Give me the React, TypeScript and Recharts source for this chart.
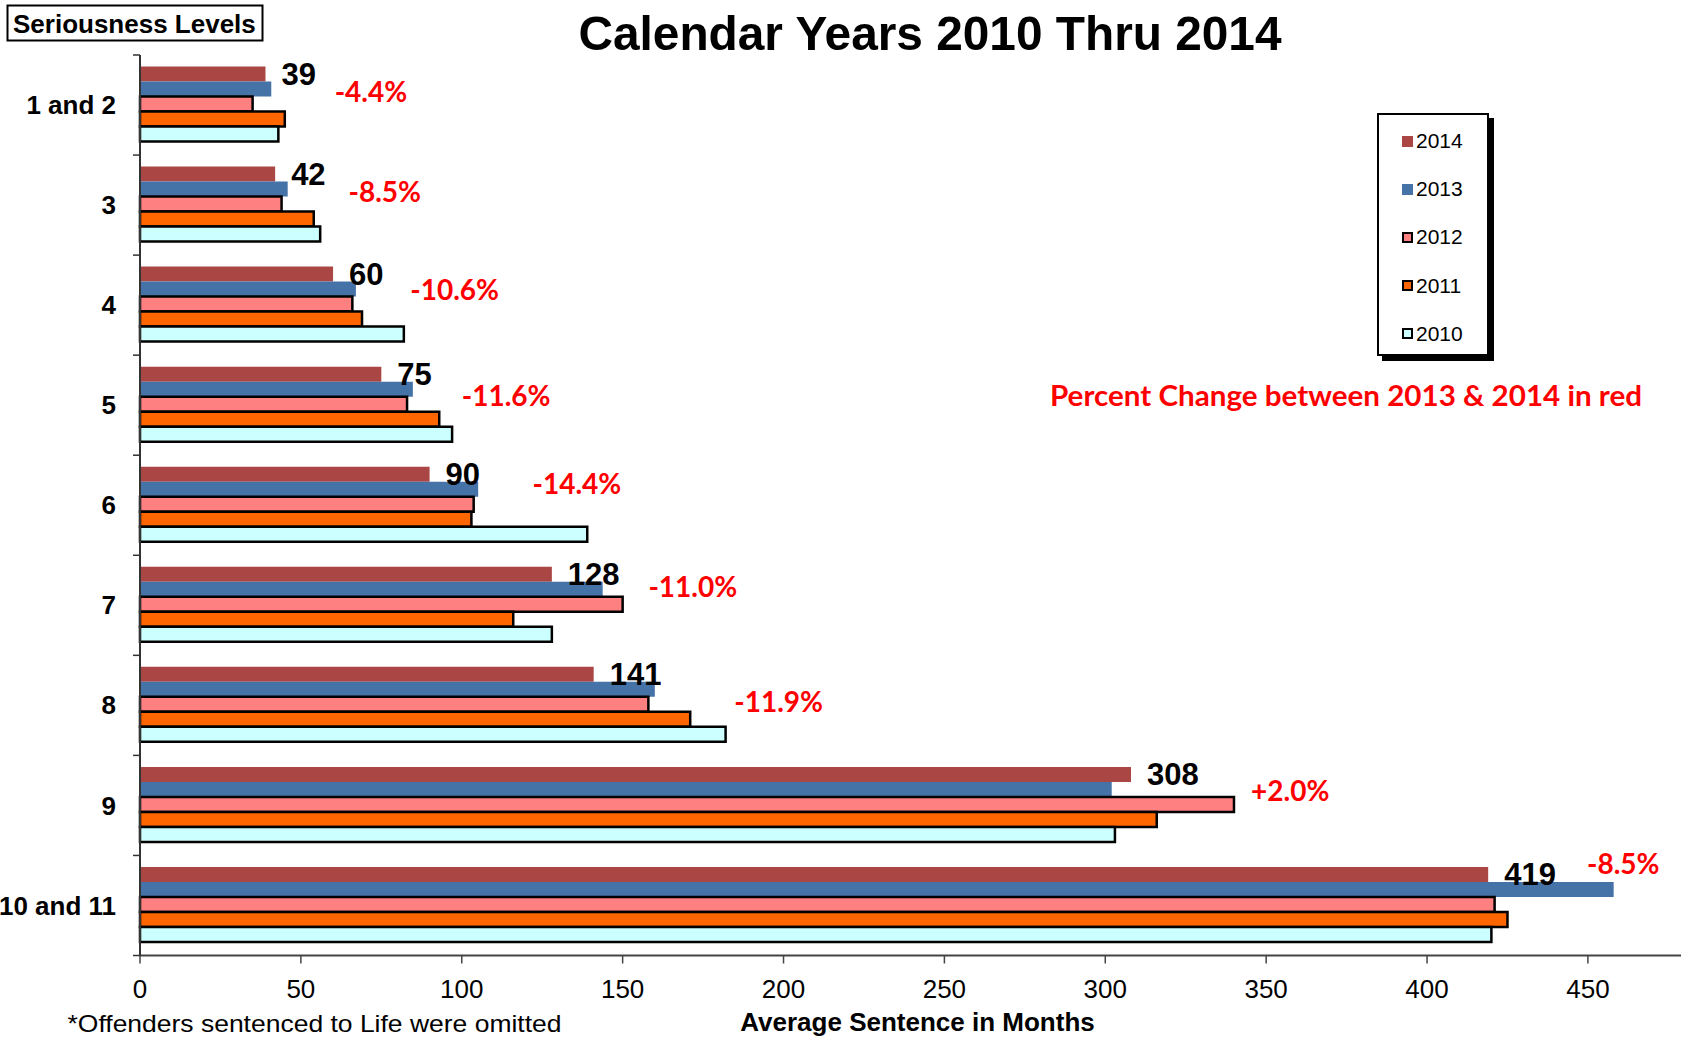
import React from "react";
import { Bar, BarChart, LabelList, Legend, ReferenceDot, XAxis, YAxis } from "recharts";

const levels = ["1 and 2", "3", "4", "5", "6", "7", "8", "9", "10 and 11"];
const years = ["2014", "2013", "2012", "2011", "2010"];
const avg2014 = [39, 42, 60, 75, 90, 128, 141, 308, 419];
const avg2013 = [40.8, 45.9, 67.1, 84.8, 105.1, 143.8, 160, 302, 458];
const avg2012 = [35, 44, 66, 83, 103.7, 150, 158, 340, 421];
const avg2011 = [45, 54, 69, 93, 103, 116, 171, 316, 425];
const avg2010 = [43, 56, 82, 97, 139, 128, 182, 303, 420];
const pctChange = ["-4.4%", "-8.5%", "-10.6%", "-11.6%", "-14.4%", "-11.0%", "-11.9%", "+2.0%", "-8.5%"];
const xTicks = [0, 50, 100, 150, 200, 250, 300, 350, 400, 450];

// red notes were hand placed: start in months, vertical nudge from the level centre
const pctAtMonths = [60.5, 64.8, 84, 100, 122, 158, 184.7, 345.3, 449.7];
const pctNudge = [-13, -13, -15, -9, -21, -18, -3, -14, -41];

const W = 1681;
const H = 1039;
const TOP = 55;
const X_AXIS_H = 83.5;
const AXIS_X = 140;
const X_MAX = (W - AXIS_X) / 3.2176;
const BAND = (H - TOP - X_AXIS_H) / levels.length;
const FONT = "'Liberation Sans', Arial, sans-serif";
const NOTE_FONT = "Lato, 'Open Sans', sans-serif";

const seriesStyle: Record<string, { fill: string; stroke?: string }> = {
  "2014": { fill: "#AA4643" },
  "2013": { fill: "#4572A7" },
  "2012": { fill: "#FF8080", stroke: "#000" },
  "2011": { fill: "#FF6600", stroke: "#000" },
  "2010": { fill: "#CCFFFF", stroke: "#000" },
};

const data = levels.map((level, i) => ({
  level,
  y2014: avg2014[i],
  y2013: avg2013[i],
  y2012: avg2012[i],
  y2011: avg2011[i],
  y2010: avg2010[i],
}));

function LevelTick(props: any) {
  const { y, payload, index } = props;
  const last = index === levels.length - 1;
  return (
    <g>
      <text
        x={AXIS_X - 24}
        y={y}
        dy="0.35em"
        textAnchor="end"
        fontFamily={FONT}
        fontSize={26}
        fontWeight="bold"
        fill="#000"
      >
        {payload.value}
      </text>
      <line x1={AXIS_X - 7} x2={AXIS_X} y1={y - BAND / 2} y2={y - BAND / 2} stroke="#333" strokeWidth={1.5} />
      {last ? (
        <line x1={AXIS_X - 7} x2={AXIS_X} y1={y + BAND / 2} y2={y + BAND / 2} stroke="#333" strokeWidth={1.5} />
      ) : null}
    </g>
  );
}

function LegendBox(props: any) {
  const raw = props.payload ?? [];
  const items = years
    .map((yr) => raw.find((it: any) => it.value === yr))
    .filter(Boolean);
  return (
    <div
      style={{
        width: 112,
        height: 243,
        boxSizing: "border-box",
        border: "2px solid #000",
        background: "#fff",
        boxShadow: "5px 5px 0 #000",
        paddingTop: 2,
        fontFamily: FONT,
      }}
    >
      {items.map((it: any) => {
        const st = seriesStyle[it.value] ?? { fill: it.color };
        return (
          <div key={it.value} style={{ height: 48.2, display: "flex", alignItems: "center", paddingLeft: 23 }}>
            <span
              style={{
                display: "inline-block",
                width: 11,
                height: 11,
                boxSizing: "border-box",
                background: st.fill,
                border: st.stroke ? "2px solid #000" : "none",
                marginRight: 3,
              }}
            />
            <span style={{ fontSize: 21, color: "#000" }}>{it.value}</span>
          </div>
        );
      })}
    </div>
  );
}

export default function App(): React.ReactElement {
  return (
    <div style={{ position: "absolute", left: 0, top: 0, width: W, height: H, background: "#fff", overflow: "hidden" }}>
      <BarChart
        width={W}
        height={H}
        data={data}
        layout="vertical"
        margin={{ top: TOP, right: 0, bottom: 0, left: 0 }}
        barCategoryGap="11.5%"
        barGap={0}
      >
        <XAxis
          xAxisId="top"
          orientation="top"
          type="number"
          domain={[0, X_MAX]}
          height={0}
          tick={false}
          tickLine={false}
          axisLine={{ stroke: "#999", strokeWidth: 3 }}
        />
        <XAxis
          type="number"
          domain={[0, X_MAX]}
          ticks={xTicks}
          height={X_AXIS_H}
          tickSize={8}
          tickMargin={16}
          axisLine={{ stroke: "#444", strokeWidth: 2 }}
          tickLine={{ stroke: "#444", strokeWidth: 1.5 }}
          tick={{ fill: "#000", fontSize: 26, fontFamily: FONT }}
          label={{
            value: "Average Sentence in Months",
            position: "insideBottom",
            offset: 8,
            dx: 7,
            fill: "#000",
            fontSize: 26,
            fontWeight: "bold",
            fontFamily: FONT,
          }}
        />
        <YAxis
          type="category"
          dataKey="level"
          width={AXIS_X}
          interval={0}
          tickLine={false}
          axisLine={{ stroke: "#333", strokeWidth: 2 }}
          tick={<LevelTick />}
        />
        <Legend
          layout="horizontal"
          verticalAlign="middle"
          align="center"
          wrapperStyle={{ position: "absolute", left: 1377, top: 113, width: 118, height: 250 }}
          content={<LegendBox />}
        />
        {years.map((yr) => (
          <Bar
            key={yr}
            dataKey={`y${yr}`}
            name={yr}
            fill={seriesStyle[yr].fill}
            stroke={seriesStyle[yr].stroke ?? "none"}
            strokeWidth={seriesStyle[yr].stroke ? 2.5 : 0}
            isAnimationActive={false}
          >
            {yr === "2014" ? (
              <LabelList
                dataKey="y2014"
                position="right"
                offset={16}
                fill="#000"
                fontSize={31}
                fontWeight="bold"
                fontFamily={FONT}
              />
            ) : null}
          </Bar>
        ))}
        {levels.map((lv, i) => (
          <ReferenceDot
            key={lv}
            x={pctAtMonths[i]}
            y={lv}
            r={0}
            ifOverflow="visible"
            shape={(p: any) => (
              <text
                x={p.cx}
                y={p.cy + pctNudge[i]}
                dy="0.35em"
                fill="#FF0000"
                fontFamily={NOTE_FONT}
                fontWeight={700}
                fontSize={28}
              >
                {pctChange[i]}
              </text>
            )}
          />
        ))}
      </BarChart>
      <svg
        width={W}
        height={H}
        style={{ position: "absolute", left: 0, top: 0, pointerEvents: "none" }}
      >
        <text
          x={930}
          y={50}
          textAnchor="middle"
          fontFamily={FONT}
          fontWeight="bold"
          fontSize={49}
          textLength={703}
          lengthAdjust="spacingAndGlyphs"
          fill="#000"
        >
          Calendar Years 2010 Thru 2014
        </text>
        <rect x={7.5} y={5.5} width={255} height={35} fill="#fff" stroke="#000" strokeWidth={2} />
        <text x={13} y={24} dy="0.35em" fontFamily={FONT} fontWeight="bold" fontSize={26} fill="#000">
          Seriousness Levels
        </text>
        <text
          x={1050}
          y={396}
          dy="0.35em"
          fontFamily={NOTE_FONT}
          fontWeight={700}
          fontSize={28}
          textLength={592}
          lengthAdjust="spacingAndGlyphs"
          fill="#FF0000"
        >
          Percent Change between 2013 &amp; 2014 in red
        </text>
        <text x={67.5} y={1032} fontFamily={FONT} fontSize={24} textLength={494} lengthAdjust="spacingAndGlyphs" fill="#000">
          *Offenders sentenced to Life were omitted
        </text>
      </svg>
    </div>
  );
}
